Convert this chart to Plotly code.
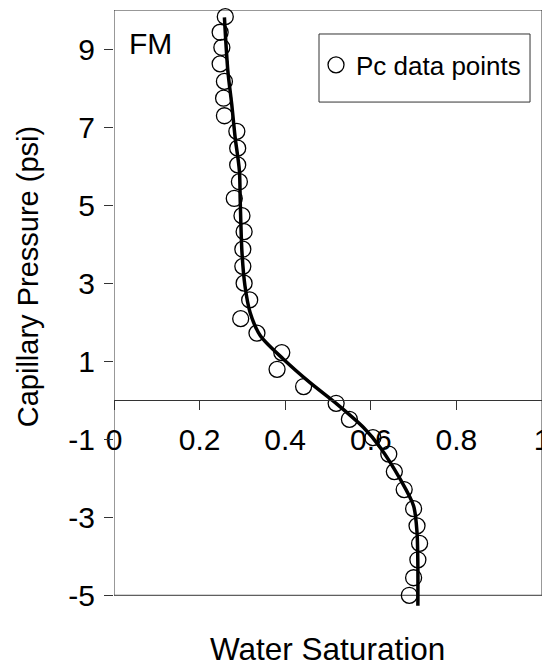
import plotly.graph_objects as go

# Measured data points (Water saturation, Capillary pressure psi)
sw_points = [0.260, 0.248, 0.252, 0.248, 0.258, 0.256, 0.258, 0.287, 0.289, 0.289,
             0.293, 0.281, 0.299, 0.304, 0.301, 0.301, 0.304, 0.317, 0.296, 0.334,
             0.392, 0.381, 0.443, 0.519, 0.550, 0.605, 0.642, 0.655, 0.678, 0.700,
             0.708, 0.714, 0.710, 0.700, 0.690]
pc_points = [9.83, 9.43, 9.04, 8.62, 8.17, 7.74, 7.29, 6.89, 6.46, 6.03,
             5.60, 5.17, 4.73, 4.32, 3.87, 3.43, 3.00, 2.57, 2.09, 1.72,
             1.22, 0.79, 0.35, -0.08, -0.49, -0.96, -1.38, -1.83, -2.29, -2.78,
             -3.22, -3.67, -4.09, -4.55, -5.00]

# Fitted curve
sw_fit = [0.258, 0.266, 0.275, 0.283, 0.293, 0.295, 0.299, 0.306, 0.318, 0.342,
          0.396, 0.458, 0.521, 0.583, 0.622, 0.669, 0.700, 0.708, 0.710, 0.710]
pc_fit = [9.81, 8.44, 7.59, 6.74, 5.88, 5.07, 3.79, 2.93, 2.25, 1.65,
          1.05, 0.45, -0.10, -0.70, -1.21, -2.03, -2.71, -3.39, -4.25, -5.27]

x_tick_vals = [0, 0.2, 0.4, 0.6, 0.8, 1]
x_tick_text = ["0", "0.2", "0.4", "0.6", "0.8", "1"]
y_tick_vals = [9, 7, 5, 3, 1, -1, -3, -5]
y_tick_text = ["9", "7", "5", "3", "1", "-1", "-3", "-5"]

FONT = "Liberation Sans, Arial, Helvetica, sans-serif"
AX = "#333333"
Y_MIN, Y_MAX = -5.3, 10.0

fig = go.Figure()
fig.add_trace(go.Scatter(
    x=sw_points, y=pc_points, mode="markers", name="Pc data points",
    marker=dict(symbol="circle-open", size=16, color="black", line=dict(width=1.3)),
    cliponaxis=False,
))
fig.add_trace(go.Scatter(
    x=sw_fit, y=pc_fit, mode="lines", showlegend=False,
    line=dict(color="black", width=3.5, shape="spline", smoothing=0.8),
))

fig.update_layout(
    width=542, height=666,
    margin=dict(l=114, r=0, t=10, b=59, autoexpand=False),
    plot_bgcolor="white", paper_bgcolor="white",
    font=dict(family=FONT, color="black"),
    showlegend=True,
    legend=dict(x=0.472, y=0.908, xanchor="left", yanchor="middle",
                bgcolor="rgba(0,0,0,0)", borderwidth=0,
                font=dict(size=26, family=FONT)),
    xaxis=dict(range=[0, 1], tickvals=x_tick_vals, ticktext=x_tick_text,
               ticks="outside", ticklen=9, tickcolor=AX, tickwidth=1,
               showline=True, linecolor=AX, linewidth=1,
               showgrid=False, zeroline=False,
               anchor="free", position=(0 - Y_MIN) / (Y_MAX - Y_MIN),
               tickfont=dict(size=30), ticklabelstandoff=4,
               ticklabeloverflow="allow"),
    yaxis=dict(range=[Y_MIN, Y_MAX], tickvals=y_tick_vals, ticktext=y_tick_text,
               ticks="outside", ticklen=9, tickcolor=AX, tickwidth=1,
               showline=False, showgrid=False, zeroline=False,
               tickfont=dict(size=30), ticklabelstandoff=3,
               ticklabeloverflow="allow"),
    shapes=[
        dict(type="rect", xref="x", yref="y", x0=0, x1=1, y0=-5, y1=10,
             line=dict(color=AX, width=1), layer="below"),
        dict(type="rect", xref="paper", yref="paper", x0=0.479, x1=0.972,
             y0=0.8458, y1=0.9598, line=dict(color=AX, width=1), layer="below"),
    ],
    annotations=[
        dict(text="FM", xref="paper", yref="paper", x=0.030, y=0.9447,
             xanchor="left", yanchor="middle", showarrow=False,
             font=dict(size=30, family=FONT)),
        dict(text="Capillary Pressure (psi)", xref="paper", yref="paper",
             x=-0.201, y=0.554, textangle=-90, xanchor="center", yanchor="middle",
             showarrow=False, font=dict(size=29, family=FONT)),
        dict(text="Water Saturation", xref="paper", yref="paper",
             x=0.498, y=-0.071, xanchor="center", yanchor="middle",
             showarrow=False, font=dict(size=31.5, family=FONT)),
    ],
)

fig.write_html("out.html")
